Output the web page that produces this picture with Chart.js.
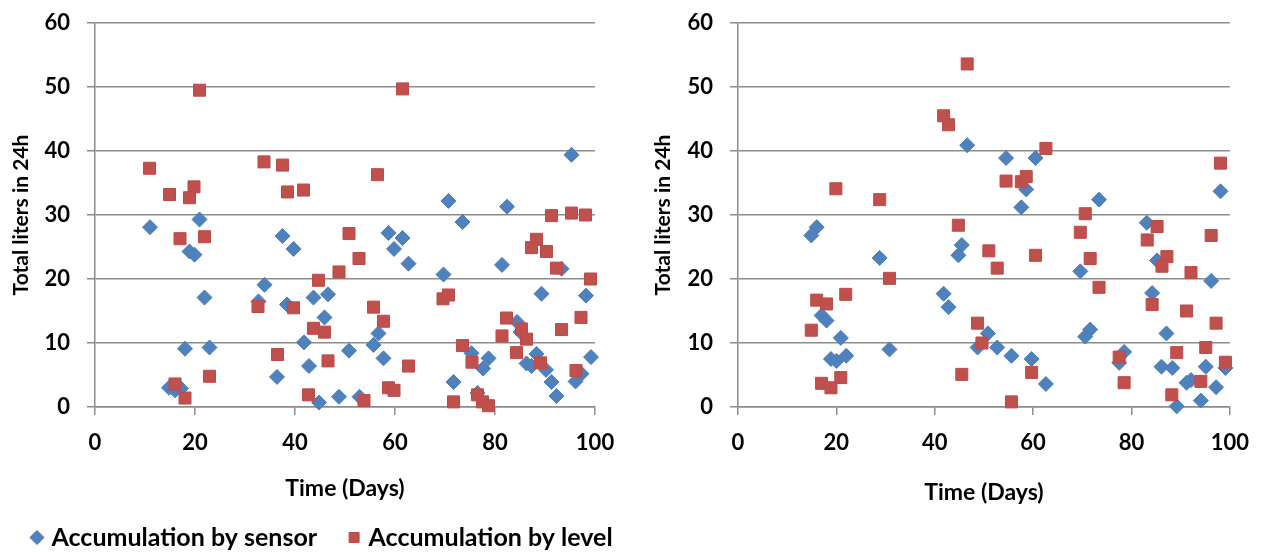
<!DOCTYPE html>
<html>
<head>
<meta charset="utf-8">
<script src="https://cdn.jsdelivr.net/npm/chart.js@4"></script>
<style>
  html, body { margin: 0; padding: 0; background: #fff; overflow: hidden; }
  #wrap { position: relative; width: 1264px; height: 552px; overflow: hidden; }
  #chartLeft { position: absolute; left: 0; top: 0; }
  #chartRight { position: absolute; left: 632px; top: 0; }
</style>
</head>
<body>
<div id="wrap">
  <canvas id="chartLeft" width="700" height="560"></canvas>
  <canvas id="chartRight" width="632" height="552"></canvas>
</div>
<script>
// left panel
var sensorDaysA = [11, 20.9, 37.5, 39.7, 18.9, 19.9, 33.9, 21.9, 32.7, 38.4, 43.7, 46.6, 45.9, 41.8, 18, 22.9, 42.8, 36.4, 14.8, 16, 17.2, 44.8, 48.8,
  95.3, 70.7, 82.4, 73.5, 58.7, 61.5, 59.8, 62.7, 69.7, 81.4, 93.3, 89.3, 98.2, 56.7, 55.7, 57.7, 50.8, 84.4, 85.1, 75.3, 78.7, 77.6, 86.3, 88.3, 87.3, 90.2, 91.3, 92.3, 96.1, 97.3, 99.2, 71.7, 76.5, 52.9];
var sensorLitersA = [28.1, 29.3, 26.7, 24.7, 24.3, 23.8, 19.1, 17.1, 16.5, 16.0, 17.1, 17.6, 14.0, 10.1, 9.1, 9.3, 6.4, 4.7, 3.0, 2.6, 2.9, 0.7, 1.6,
  39.4, 32.2, 31.3, 28.9, 27.2, 26.4, 24.7, 22.4, 20.7, 22.2, 21.6, 17.7, 17.4, 11.5, 9.7, 7.6, 8.8, 13.3, 11.7, 8.4, 7.6, 6.0, 6.8, 8.3, 6.4, 5.8, 3.9, 1.7, 4.0, 5.2, 7.8, 3.9, 2.2, 1.6];
var levelDaysA = [20.9, 10.9, 33.8, 37.5, 14.9, 19.8, 18.9, 38.5, 41.7, 17, 21.9, 48.8, 44.7, 32.6, 39.7, 43.7, 45.9, 36.5, 46.6, 22.9, 16, 18, 42.7,
  61.5, 56.5, 50.8, 52.8, 91.3, 95.3, 98.1, 88.3, 87.3, 90.3, 92.3, 99.1, 69.6, 70.7, 55.7, 57.7, 82.3, 85.3, 97.2, 93.3, 81.4, 86.3, 73.5, 84.3, 75.4, 89.1, 62.7, 96.2, 58.7, 59.8, 53.8, 71.7, 76.5, 77.5, 78.7];
var levelLitersA = [49.5, 37.3, 38.3, 37.8, 33.2, 34.4, 32.7, 33.6, 33.9, 26.3, 26.6, 21.1, 19.8, 15.7, 15.5, 12.3, 11.7, 8.2, 7.2, 4.8, 3.6, 1.4, 1.9,
  49.7, 36.3, 27.1, 23.2, 29.9, 30.3, 30.0, 26.2, 24.9, 24.3, 21.7, 20.0, 16.9, 17.5, 15.6, 13.4, 13.9, 12.2, 14.0, 12.1, 11.1, 10.6, 9.6, 8.5, 7.0, 6.9, 6.4, 5.7, 3.0, 2.6, 1.0, 0.8, 1.9, 0.8, 0.2];

// right panel
var sensorDaysB = [46.6, 16, 14.9, 45.5, 44.8, 28.8, 41.8, 42.8, 17, 18, 20.9, 48.7, 30.8, 18.9, 20, 22,
  54.5, 60.5, 58.6, 73.4, 57.6, 98.1, 83.1, 85.2, 69.6, 96.2, 84.2, 71.6, 70.6, 50.8, 87.1, 52.7, 55.6, 59.7, 78.5, 77.5, 86.1, 88.3, 95.1, 99.1, 62.6, 91.2, 92.1, 97.2, 94.1, 89.2];
var sensorLitersB = [40.9, 28.1, 26.8, 25.3, 23.7, 23.3, 17.7, 15.6, 14.3, 13.5, 10.8, 9.3, 9.0, 7.5, 7.2, 8.0,
  38.9, 38.9, 34.0, 32.4, 31.2, 33.7, 28.8, 22.9, 21.2, 19.7, 17.8, 12.1, 11.0, 11.5, 11.5, 9.3, 8.0, 7.5, 8.6, 6.9, 6.3, 6.1, 6.3, 6.1, 3.6, 3.8, 4.2, 3.1, 1.0, 0.1];
var levelDaysB = [46.6, 41.8, 42.8, 19.9, 28.8, 44.8, 30.8, 21.9, 16, 18, 14.9, 48.7, 49.6, 45.5, 17, 18.9, 20.9,
  62.6, 98.1, 54.5, 57.6, 58.6, 70.6, 69.6, 85.2, 83.2, 96.2, 51.0, 52.7, 60.5, 71.6, 87.2, 86.2, 92.1, 73.4, 84.2, 91.2, 97.2, 95.1, 89.2, 77.5, 99.1, 59.7, 78.5, 94.1, 88.2, 55.6];
var levelLitersB = [53.6, 45.5, 44.1, 34.1, 32.4, 28.4, 20.1, 17.6, 16.7, 16.1, 12.0, 13.1, 10.0, 5.1, 3.7, 3.0, 4.6,
  40.4, 38.1, 35.3, 35.2, 36.0, 30.2, 27.3, 28.2, 26.1, 26.8, 24.4, 21.7, 23.7, 23.2, 23.5, 22.0, 21.0, 18.7, 16.0, 15.0, 13.1, 9.3, 8.5, 7.8, 7.0, 5.4, 3.8, 4.0, 1.9, 0.8];

var seriesNames = ["Accumulation by sensor", "Accumulation by level"];
var xTitle = "Time (Days)";
var yTitle = "Total liters in 24h";

Chart.defaults.font.family = "Lato";
Chart.defaults.font.size = 22;
Chart.defaults.font.weight = "bold";
Chart.defaults.color = "#000";

var gridGray = "#8c8c8c";

function toPoints(xs, ys) {
  return xs.map(function (x, i) { return { x: x, y: ys[i] }; });
}

function makeDatasets(sDays, sLiters, lDays, lLiters) {
  return [
    {
      label: seriesNames[0],
      data: toPoints(sDays, sLiters),
      pointStyle: "rectRot",
      pointRadius: 7.5,
      backgroundColor: "#4F81BD",
      borderColor: "#4A7EBB",
      borderWidth: 1,
      order: 2,
      clip: false
    },
    {
      label: seriesNames[1],
      data: toPoints(lDays, lLiters),
      pointStyle: "rect",
      pointRadius: 8.5,
      backgroundColor: "#C0504D",
      borderColor: "#BE4B48",
      borderWidth: 1,
      order: 1,
      clip: false
    }
  ];
}

function makeScales(yWidth, yTitlePad, xHeight, xTitlePad) {
  return {
    x: {
      type: "linear",
      min: 0,
      max: 100,
      ticks: { stepSize: 20, padding: 15, font: { size: 22 } },
      grid: { drawOnChartArea: false, drawTicks: true, tickLength: 8, color: gridGray, lineWidth: 1.5 },
      border: { display: true, color: gridGray, width: 1.5 },
      title: { display: true, text: xTitle, font: { size: 23 }, padding: { top: 0, bottom: xTitlePad } },
      afterFit: function (s) { s.height = xHeight; }
    },
    y: {
      min: 0,
      max: 60,
      ticks: { stepSize: 10, padding: 17, font: { size: 22 } },
      grid: { color: gridGray, lineWidth: 1.5, tickLength: 8 },
      border: { display: true, color: gridGray, width: 1.5 },
      title: { display: true, text: yTitle, font: { size: 21 }, padding: { top: yTitlePad, bottom: 0 } },
      afterFit: function (s) {
        s.width = yWidth;
        // keep the label padding out of the top/bottom layout margin
        s.paddingTop = 13;
        s.paddingBottom = 13;
      }
    }
  };
}

var leftScales = makeScales(95, 8.4, 83, -12.8);
// empty right axis so the legend row gets the full canvas width
leftScales.pad = {
  axis: "y",
  position: "right",
  display: true,
  ticks: { display: false },
  grid: { display: false },
  border: { display: false },
  afterFit: function (s) { s.width = 105; s.paddingTop = 0; s.paddingBottom = 0; }
};

new Chart(document.getElementById("chartLeft"), {
  type: "scatter",
  data: { datasets: makeDatasets(sensorDaysA, sensorLitersA, levelDaysA, levelLitersA) },
  options: {
    responsive: false,
    animation: false,
    devicePixelRatio: 1,
    layout: { padding: { left: 0, right: 0, top: 23, bottom: 0 } },
    scales: leftScales,
    plugins: {
      tooltip: { enabled: false },
      legend: {
        position: "bottom",
        align: "start",
        labels: {
          usePointStyle: true,
          boxWidth: 4,
          boxHeight: 10,
          padding: 35,
          font: { size: 25 },
          sort: function (a, b) { return a.datasetIndex - b.datasetIndex; }
        }
      }
    }
  }
});

new Chart(document.getElementById("chartRight"), {
  type: "scatter",
  data: { datasets: makeDatasets(sensorDaysB, sensorLitersB, levelDaysB, levelLitersB) },
  options: {
    responsive: false,
    animation: false,
    devicePixelRatio: 1,
    layout: { padding: { left: 0, right: 31, top: 23, bottom: 0 } },
    scales: makeScales(106, 18.4, 145, 45.2),
    plugins: {
      tooltip: { enabled: false },
      legend: { display: false }
    }
  }
});
</script>
</body>
</html>
